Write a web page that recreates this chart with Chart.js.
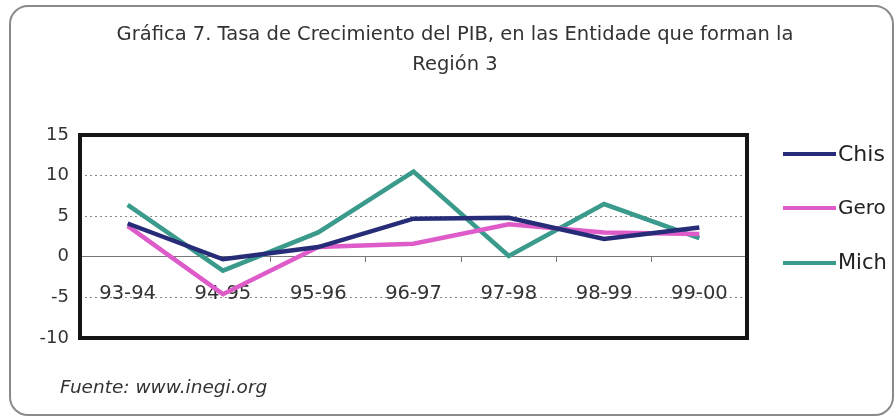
<!DOCTYPE html>
<html>
<head>
<meta charset="utf-8">
<script src="https://cdn.jsdelivr.net/npm/chart.js@4"></script>
<style>
html,body{margin:0;padding:0;background:#fff;}
#wrap{width:895px;height:418px;position:relative;}
</style>
</head>
<body>
<div id="wrap"><canvas id="c" width="895" height="418"></canvas></div>
<script>
const categories = ["93-94","94-95","95-96","96-97","97-98","98-99","99-00"];
const chis = [4.1, -0.3, 1.2, 4.7, 4.8, 2.2, 3.6];
const gero = [3.8, -4.6, 1.2, 1.6, 4.0, 3.0, 2.8];
const mich = [6.4, -1.7, 3.0, 10.5, 0.1, 6.5, 2.3];
const seriesNames = ["Chis","Gero","Mich"];
const titleLines = ["Gráfica 7. Tasa de Crecimiento del PIB, en las Entidade que forman la","Región 3"];
const sourceText = "Fuente: www.inegi.org";
const yMin = -10, yMax = 15, yStep = 5;

const FONT = "'DejaVu Sans', sans-serif";
const colors = ["#272c78", "#de5cc9", "#3a9a8c"];
const legendFontSizes = [22, 20, 21];

const decor = {
  id: 'decor',
  beforeDraw(chart) {
    const ctx = chart.ctx;
    ctx.save();
    ctx.fillStyle = '#fff';
    ctx.fillRect(0, 0, chart.width, chart.height);
    ctx.beginPath();
    ctx.roundRect(10, 6, 883, 409, 18);
    ctx.lineWidth = 2;
    ctx.strokeStyle = '#8a8a8a';
    ctx.stroke();
    ctx.restore();
  },
  afterDraw(chart) {
    const ctx = chart.ctx;
    const a = chart.chartArea;
    ctx.save();
    ctx.lineWidth = 4;
    ctx.strokeStyle = '#151515';
    ctx.strokeRect(a.left, a.top, a.right - a.left, a.bottom - a.top);
    ctx.fillStyle = '#333';
    ctx.font = "19.5px " + FONT;
    ctx.textAlign = 'center';
    ctx.textBaseline = 'middle';
    ctx.fillText(titleLines[0], 455, 35);
    ctx.fillText(titleLines[1], 455, 65);
    ctx.font = "italic 18.5px " + FONT;
    ctx.textAlign = 'left';
    ctx.fillText(sourceText, 60, 388);
    const ys = [154, 208, 263];
    chart.data.datasets.forEach((ds, i) => {
      ctx.strokeStyle = ds.borderColor;
      ctx.lineWidth = 4;
      ctx.beginPath();
      ctx.moveTo(783, ys[i]);
      ctx.lineTo(836, ys[i]);
      ctx.stroke();
      ctx.fillStyle = '#222';
      ctx.font = legendFontSizes[i] + "px " + FONT;
      ctx.textAlign = 'left';
      ctx.textBaseline = 'middle';
      ctx.fillText(ds.label, 838, ys[i] + 1);
    });
    ctx.restore();
  }
};

const mk = (label, data, color) => ({
  label, data, borderColor: color, backgroundColor: color,
  borderWidth: 4.5, pointRadius: 0, tension: 0, fill: false
});

new Chart(document.getElementById('c'), {
  type: 'line',
  data: {
    labels: categories,
    datasets: [mk(seriesNames[0], chis, colors[0]), mk(seriesNames[1], gero, colors[1]), mk(seriesNames[2], mich, colors[2])]
  },
  plugins: [decor],
  options: {
    responsive: false,
    animation: false,
    layout: { padding: { left: 35, right: 148, top: 135, bottom: 80 } },
    plugins: { legend: { display: false }, title: { display: false }, tooltip: { enabled: false } },
    scales: {
      x: {
        position: { y: 0 },
        offset: true,
        grid: { offset: true, drawOnChartArea: false, drawTicks: true, tickLength: 5, tickColor: '#777', lineWidth: 1 },
        border: { display: true, color: '#777', width: 1 },
        ticks: { color: '#333', font: { family: FONT, size: 19.5 }, padding: 20, maxRotation: 0, autoSkip: false }
      },
      y: {
        min: yMin, max: yMax,
        afterFit(s) { s.width = 45; },
        grid: { drawTicks: false, color: '#888', lineWidth: 1 },
        border: { display: false, dash: [2, 3] },
        ticks: { stepSize: yStep, color: '#333', font: { family: FONT, size: 18 }, padding: 11 }
      }
    }
  }
});
</script>
</body>
</html>
